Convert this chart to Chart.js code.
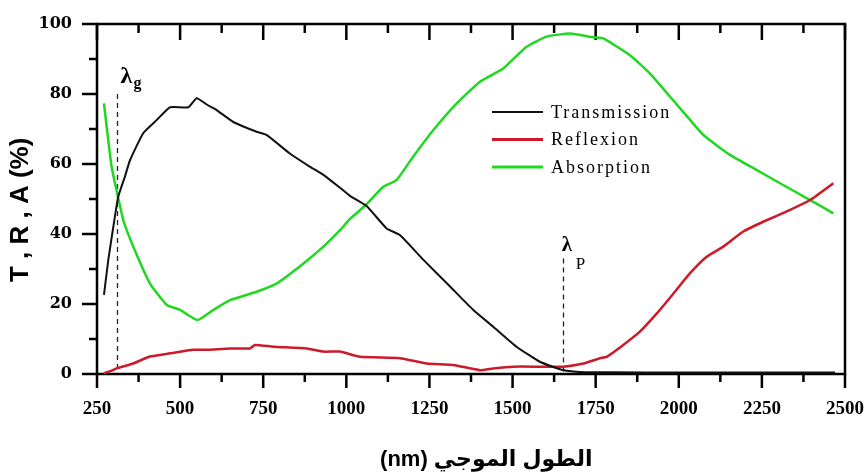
<!DOCTYPE html>
<html><head><meta charset="utf-8">
<script src="https://cdn.jsdelivr.net/npm/chart.js@4"></script>
<style>html,body{margin:0;padding:0;background:#fff}canvas{display:block}</style>
</head><body>
<canvas id="c" width="864" height="473"></canvas>
<script>
// ---- data ----
const seriesNames = ['Transmission', 'Reflexion', 'Absorption'];

const transWl  = [271, 284, 299, 314, 334, 349, 389, 430, 470, 525, 550, 580, 610, 660, 730, 760, 830, 891, 931, 981, 1011, 1061, 1121, 1161, 1232, 1312, 1382, 1442, 1512, 1582, 1648, 1700, 1800, 2000, 2200, 2470];
const transVal = [22.6, 32.6, 42, 50.7, 56.4, 61, 68.8, 72.6, 76.2, 76.2, 78.8, 77, 75.4, 72, 69.2, 68.3, 63, 59.2, 56.9, 53.2, 50.9, 48, 41.6, 39.7, 32.6, 25, 18.3, 13.5, 7.8, 3.5, 1.2, 0.6, 0.5, 0.4, 0.4, 0.4];

const reflWl  = [271, 290, 309, 359, 409, 470, 540, 580, 650, 710, 725, 780, 881, 931, 981, 1041, 1161, 1242, 1322, 1402, 1442, 1502, 1582, 1653, 1713, 1763, 1783, 1833, 1883, 1934, 1984, 2034, 2084, 2134, 2194, 2254, 2335, 2395, 2465];
const reflVal = [0.2, 0.8, 1.6, 3, 5, 5.9, 6.9, 6.9, 7.3, 7.3, 8.3, 7.8, 7.3, 6.4, 6.4, 4.9, 4.5, 3, 2.6, 1.1, 1.6, 2.1, 2.1, 2.1, 3, 4.5, 4.9, 8.3, 12.1, 17.3, 23, 28.8, 33.5, 36.4, 40.7, 43.5, 46.9, 49.7, 54.5];

const absWl  = [271, 279, 294, 314, 329, 359, 409, 460, 500, 552, 600, 650, 730, 791, 871, 931, 981, 1011, 1061, 1111, 1151, 1201, 1262, 1332, 1402, 1472, 1542, 1603, 1673, 1743, 1773, 1853, 1913, 1974, 2034, 2074, 2154, 2234, 2314, 2395, 2465];
const absVal = [77.3, 70.7, 59.2, 50.2, 44, 36.4, 25.9, 19.7, 18.3, 15.4, 18.3, 21.1, 23.5, 25.9, 31.6, 36.4, 41.1, 44.3, 48.5, 53.5, 55.4, 62.1, 69.7, 77.3, 83.5, 87.3, 93.5, 96.4, 97.3, 96.2, 95.9, 91.1, 85.9, 79.2, 72.6, 68.3, 62.6, 58.3, 54, 49.7, 45.9];

const xTicks = [250, 500, 750, 1000, 1250, 1500, 1750, 2000, 2250, 2500];
const yTicks = [0, 20, 40, 60, 80, 100];

const lambdaG = 309, lambdaGTop = 80;
const lambdaP = 1651, lambdaPTop = 33;

const xTitle = '     (nm) الطول الموجي';
const yTitle = 'T , R , A (%)   ';

const colors = ['#111111', '#cc1a2a', '#1fd81f'];

function pts(wl, v) { return wl.map((x, i) => ({ x: x, y: v[i] })); }

// ---- decorations drawn from the scales ----
const framePlugin = {
  id: 'frame',
  beforeDatasetsDraw(chart) {
    const { ctx, chartArea: a, scales: { x, y } } = chart;
    ctx.save();
    // dashed wavelength markers
    ctx.strokeStyle = '#222';
    ctx.lineWidth = 1.3;
    ctx.setLineDash([5, 4]);
    [[lambdaG, lambdaGTop], [lambdaP, lambdaPTop]].forEach(([l, t]) => {
      const px = Math.round(x.getPixelForValue(l)) + 0.5;
      ctx.beginPath();
      ctx.moveTo(px, y.getPixelForValue(t));
      ctx.lineTo(px, y.getPixelForValue(0));
      ctx.stroke();
    });
    ctx.setLineDash([]);
    // frame
    ctx.strokeStyle = '#000';
    ctx.lineWidth = 2.5;
    ctx.strokeRect(a.left, a.top, a.right - a.left, a.bottom - a.top);
    // x ticks (bottom outward, top inward)
    for (let v = xTicks[0]; v <= xTicks[xTicks.length - 1]; v += 125) {
      const major = xTicks.includes(v);
      const px = x.getPixelForValue(v);
      ctx.beginPath();
      ctx.moveTo(px, a.bottom); ctx.lineTo(px, a.bottom + (major ? 14 : 8));
      ctx.moveTo(px, a.top); ctx.lineTo(px, a.top + (major ? 16 : 9));
      ctx.stroke();
    }
    // y ticks (left outward)
    for (let v = 0; v <= 100; v += 10) {
      const major = yTicks.includes(v);
      const py = y.getPixelForValue(v);
      ctx.beginPath();
      ctx.moveTo(a.left, py); ctx.lineTo(a.left - (major ? 15 : 8), py);
      ctx.stroke();
    }
    ctx.restore();
  },
  afterDatasetsDraw(chart) {
    const { ctx, scales: { x, y } } = chart;
    ctx.save();
    ctx.fillStyle = '#000';
    ctx.textBaseline = 'alphabetic';
    // lambda labels
    const gx = x.getPixelForValue(lambdaG);
    ctx.font = 'bold 24px "Liberation Serif", serif';
    ctx.fillText('λ', gx + 4, y.getPixelForValue(lambdaGTop) - 11);
    ctx.font = 'bold 16px "Liberation Serif", serif';
    ctx.fillText('g', gx + 17, y.getPixelForValue(lambdaGTop) - 6);
    const px = x.getPixelForValue(lambdaP);
    ctx.font = 'bold 21px "Liberation Serif", serif';
    ctx.fillText('λ', px - 1, y.getPixelForValue(lambdaPTop) - 8);
    ctx.font = '17px "Liberation Serif", serif';
    ctx.fillText('P', px + 13, y.getPixelForValue(lambdaPTop) + 10);
    // legend
    const lx0 = 492, lx1 = 543, ly0 = 112, dy = 27.5;
    chart.data.datasets.forEach((ds, i) => {
      const ly = ly0 + i * dy;
      ctx.strokeStyle = ds.borderColor;
      ctx.lineWidth = i === 0 ? 2 : 3;
      ctx.beginPath(); ctx.moveTo(lx0, ly); ctx.lineTo(lx1, ly); ctx.stroke();
      ctx.font = '18px "Liberation Serif", serif';
      ctx.letterSpacing = '2px';
      ctx.textBaseline = 'middle';
      ctx.fillText(ds.label, 551, ly + 1);
    });
    ctx.restore();
  }
};

new Chart(document.getElementById('c'), {
  type: 'line',
  data: {
    datasets: [
      { label: seriesNames[0], data: pts(transWl, transVal), borderColor: colors[0], borderWidth: 2 },
      { label: seriesNames[1], data: pts(reflWl, reflVal), borderColor: colors[1], borderWidth: 2.5 },
      { label: seriesNames[2], data: pts(absWl, absVal), borderColor: colors[2], borderWidth: 2.5 }
    ]
  },
  options: {
    responsive: false,
    animation: false,
    events: [],
    elements: { point: { radius: 0 }, line: { tension: 0.15, fill: false } },
    layout: { padding: { top: 24, right: 19, left: 0, bottom: 0 } },
    plugins: { legend: { display: false }, tooltip: { enabled: false } },
    scales: {
      x: {
        type: 'linear', min: 250, max: 2500,
        afterBuildTicks: s => { s.ticks = xTicks.map(v => ({ value: v })); },
        afterFit: s => { s.height = 99; s.paddingLeft = 0; s.paddingRight = 0; },
        grid: { display: false, drawTicks: false },
        border: { display: false },
        ticks: {
          padding: 24, color: '#000', maxRotation: 0, autoSkip: false,
          font: { family: '"Liberation Serif", serif', weight: 'bold', size: 19 },
          callback: v => String(v)
        },
        title: {
          display: true, text: xTitle, color: '#000', padding: { top: 0, bottom: 0 },
          font: { family: '"Liberation Sans", "DejaVu Sans", sans-serif', weight: 'bold', size: 22 }
        }
      },
      y: {
        type: 'linear', min: 0, max: 100,
        afterBuildTicks: s => { s.ticks = yTicks.map(v => ({ value: v })); },
        afterFit: s => { s.width = 97; s.paddingTop = 0; s.paddingBottom = 0; },
        grid: { display: false, drawTicks: false },
        border: { display: false },
        ticks: {
          padding: 25, color: '#000',
          font: { family: '"DejaVu Serif", serif', weight: 'bold', size: 16 },
          callback: v => String(v)
        },
        title: {
          display: true, text: yTitle, color: '#000', padding: { top: 5, bottom: 0 },
          font: { family: '"Liberation Sans", sans-serif', weight: 'bold', size: 26 }
        }
      }
    }
  },
  plugins: [framePlugin]
});
</script>
</body></html>
